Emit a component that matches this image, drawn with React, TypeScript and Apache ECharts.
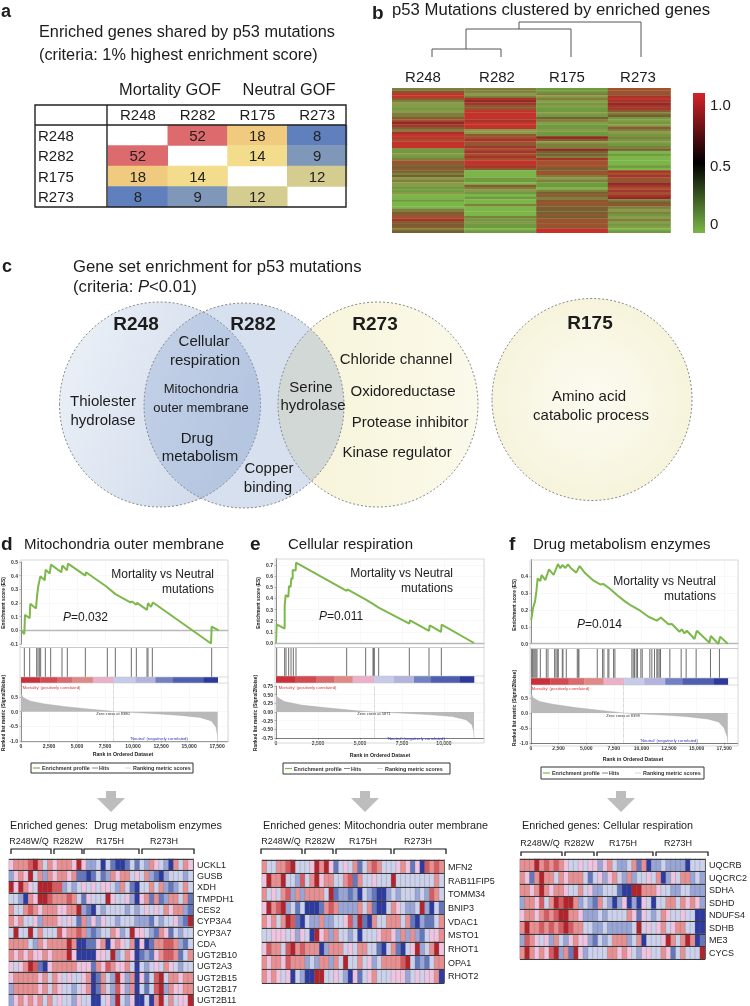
import React, { useEffect, useRef } from "react";
import * as echarts from "echarts";

const ff = '"Liberation Sans", Arial, sans-serif';

// ---------- panel a
const aLabels = ["R248", "R282", "R175", "R273"];
const aRows = [
  [null, 52, 18, 8],
  [52, null, 14, 9],
  [18, 14, null, 12],
  [8, 9, 12, null],
];
const aColors: [number, string][] = [[52, "#dd6b6e"], [18, "#f0ca7e"], [14, "#f3dc8b"], [12, "#d5cc90"], [9, "#7f97b9"], [8, "#5f80bd"]];

// ---------- panel b (tenths of the scale, top to bottom)
const bColumns = ["R248", "R282", "R175", "R273"];
const bR248 = "348853221233 569753 7886888 11213 65454 34232 2112001000 3456754534";
const bR282 = "3323 79755 88887888 22 567657 676 76887 5 000110 53 21 0100 3 0000 3 121101";
const bR175 = "11 32 3 2121121 43 211211 95 233 94 43 7666 4 56 3231 10 34534 654 4454 6565 88";
const bR273 = "665 787977 534 1212 53 213 1213 4 0100 0010 76765 976 7679 3453 2312 3212 01";
const bEdges = [0, 1.038, 2.071, 3.1, 4];
const bPalette = ["#7db648", "#6f9a40", "#8a9a48", "#7f7f3c", "#785f30", "#8c5a30", "#a3502e", "#a5342a", "#c2332a", "#8f2a25"];

// ---------- panels d, e, f: enrichment profiles
const esRankD = [0, 298, 357, 774, 833, 1339, 1429, 1548, 1726, 2113, 2202, 2560, 2679, 3601, 3690, 4107, 4196, 5744, 5804, 7679, 8423, 9762, 9911, 10298, 10357, 11250, 11339, 11607, 11786, 16964, 17024, 17649];
const esScoreD = [0, -0.027, 0.113, 0.088, 0.194, 0.16, 0.248, 0.326, 0.395, 0.366, 0.444, 0.415, 0.481, 0.425, 0.474, 0.439, 0.488, 0.4, 0.425, 0.317, 0.265, 0.204, 0.211, 0.187, 0.201, 0.15, 0.199, 0.172, 0.204, -0.096, 0.027, 0];
const hitsD = [298, 774, 1399, 1518, 1637, 1756, 2172, 2649, 3660, 4137, 5744, 7708, 8422, 9850, 10297, 11249, 11339, 11725, 17023];
const bandD = [0, 1726, 3214, 4554, 6429, 8273, 10208, 11994, 13571, 16309, 17560];
const metricRankD = [0, 100, 200, 800, 2000, 4000, 6000, 8000, 8380, 10000, 12000, 14000, 16000, 17000, 17400, 17540, 17560];
const metricD = [0.62, 0.55, 0.48, 0.36, 0.27, 0.17, 0.09, 0.02, 0, -0.03, -0.07, -0.12, -0.2, -0.32, -0.52, -0.8, -1.0];

const esRankE = [0, 40, 516, 516, 575, 734, 774, 873, 913, 992, 992, 1171, 1190, 4206, 4246, 5297, 5793, 6111, 7936, 7976, 9107, 9146, 9821, 9861, 11785];
const esScoreE = [0, 0.168, 0.129, 0.33, 0.43, 0.414, 0.51, 0.505, 0.58, 0.577, 0.655, 0.649, 0.72, 0.468, 0.48, 0.393, 0.348, 0.318, 0.174, 0.204, 0.108, 0.159, 0.099, 0.165, 0];
const hitsE = [40, 516, 595, 754, 893, 1032, 1190, 4206, 5337, 5773, 5813, 5853, 6111, 7936, 9107, 9841];
const bandE = [0, 1131, 2381, 3452, 4563, 5833, 7023, 8214, 9226, 10912, 11785];
const metricRankE = [0, 100, 500, 1500, 3000, 5000, 5871, 7000, 9000, 10500, 11300, 11650, 11770, 11785];
const metricE = [0.5, 0.42, 0.3, 0.2, 0.12, 0.03, 0, -0.02, -0.07, -0.13, -0.22, -0.36, -0.55, -0.75];

const esRankF = [0, 60, 181, 362, 483, 603, 844, 965, 1297, 1629, 2051, 2443, 2654, 2835, 3106, 3348, 3619, 4102, 4403, 4916, 5670, 6273, 6575, 7178, 7781, 8535, 9138, 9892, 10646, 11400, 11762, 12456, 12758, 13451, 13662, 13904, 14115, 14809, 15020, 16166, 16286, 16980, 17131, 17825];
const esScoreF = [0.14, 0.156, 0.21, 0.25, 0.309, 0.388, 0.372, 0.408, 0.378, 0.442, 0.408, 0.473, 0.448, 0.467, 0.45, 0.471, 0.448, 0.422, 0.461, 0.418, 0.374, 0.352, 0.354, 0.325, 0.289, 0.25, 0.224, 0.196, 0.16, 0.137, 0.156, 0.115, 0.117, 0.071, 0.085, 0.061, 0.077, 0.028, 0.077, 0.006, 0.046, -0.002, 0.042, 0];
const hitsF = [30, 121, 181, 271, 362, 452, 543, 844, 1387, 1538, 2141, 2262, 2383, 2473, 2835, 2895, 3197, 4192, 4283, 4343, 6002, 6484, 6605, 6967, 7057, 7480, 7600, 9138, 9259, 9380, 9531, 9651, 9953, 10073, 10767, 10948, 11189, 11400, 11491, 11611, 11732, 12577, 13602, 14054, 14959, 16256, 17070];
const bandF = [0, 1749, 3408, 4826, 6575, 8445, 10254, 12155, 13753, 16528, 17825];
const metricRankF = [0, 100, 200, 800, 2000, 4000, 6000, 8000, 8398, 10000, 12000, 14000, 16000, 17000, 17500, 17780, 17825];
const metricF = [0.66, 0.58, 0.5, 0.38, 0.29, 0.18, 0.1, 0.02, 0, -0.03, -0.07, -0.12, -0.2, -0.3, -0.5, -0.8, -1.0];

const bandPalette = ["#cb2f3a", "#d24a52", "#d96b70", "#e08a88", "#eab1c9", "#c5cbe8", "#b3b4de", "#7181c4", "#4e5fb0", "#2d3a9c"];

// ---------- heat maps
const heatPalette = ["#2d3a9f", "#6477bd", "#98a5d6", "#cdd2ec", "#efc4e0", "#e88f92", "#d75a60", "#b3232b"];
const genesD = ["UCKL1", "GUSB", "XDH", "TMPDH1", "CES2", "CYP3A4", "CYP3A7", "CDA", "UGT2B10", "UGT2A3", "UGT2B15", "UGT2B17", "UGT2B11"];
const heatD = [
  "4555675354 5554742230 3100131325 43205354",
  "2454735254 5545110131 2545534352 10233323",
  "7475437776 6232343434 4325310335 35212353",
  "3320547765 5565314333 7433420451 51255351",
  "5335654555 4455721032 3333232343 43545521",
  "5453342555 4343152424 3323332221 32334217",
  "3733735333 6455652123 3542374432 15413233",
  "5555325455 5575001145 0454350401 55665213",
  "5454544545 5574000044 3723540121 45665135",
  "4345761045 5555444154 6544530323 43543233",
  "4555554535 4343345015 3274250413 67355455",
  "2555554535 4332345015 3264250313 67254455",
  "2454545353 4332433003 4273240030 57353447",
];
const genesE = ["MFN2", "RAB11FIP5", "TOMM34", "BNIP3", "VDAC1", "MSTO1", "RHOT1", "OPA1", "RHOT2"];
const heatE = [
  "5335567333 4757413435 1356533345 41406565",
  "4755733263 5745533561 5334333733 33333353",
  "5343562525 5553712212 0321002323 33232653",
  "4756723130 0015652222 5351003543 22372031",
  "5453576103 2252233462 7105335553 51021135",
  "3344434243 0745253323 0333455425 25213445",
  "4655367565 5502555343 5533103510 34723574",
  "5455465552 3255253733 5342355556 73121355",
  "5454340320 0773343204 1345333444 23434450",
];
const genesF = ["UQCRB", "UQCRC2", "SDHA", "SDHD", "NDUFS4", "SDHB", "ME3", "CYCS"];
const heatF = [
  "5557565654 3343442453 2235150223 22220333",
  "5415755354 5553134245 3252334350 24355232",
  "5545754554 3353422333 1007755543 32233222",
  "2554635767 7523215320 2402043033 55354542",
  "4554565677 5542223233 3354143235 43343300",
  "5755656567 6553322322 2223734345 34553300",
  "2654342532 4544213235 5523503334 75357501",
  "5754546725 1742333355 4543244335 41353337",
];
const groupNames = ["R248W/Q", "R282W", "R175H", "R273H"];

const digits = (s: string) => s.replace(/\s/g, "").split("").map(Number);

function txt(text: string, x: number, y: number, size: number, o: any = {}) {
  return {
    type: "text", x, y, z: 60, silent: true, rotation: o.rotation || 0,
    style: {
      text, fontFamily: ff, fontSize: size, fontWeight: o.weight || "normal", fill: o.fill || "#1c1c1c",
      align: o.align || "left", verticalAlign: "middle", rich: o.rich,
    },
  };
}
function seg(x1: number, y1: number, x2: number, y2: number, stroke: string, lineWidth: number, extra: any = {}) {
  return { type: "line", z: 55, silent: true, shape: { x1, y1, x2, y2 }, style: { stroke, lineWidth, ...extra } };
}
function poly(points: number[][], stroke: string, lineWidth: number) {
  return { type: "polyline", z: 55, silent: true, shape: { points }, style: { stroke, lineWidth, fill: "none" } };
}

const App = () => {
  const ref = useRef<HTMLDivElement>(null);
  useEffect(() => {
    const chart = echarts.init(ref.current!, null, { renderer: "svg" });
    const grid: any[] = [], xAxis: any[] = [], yAxis: any[] = [], series: any[] = [], g: any[] = [];

    // ===== a
    grid.push({ left: 108, top: 125, width: 239, height: 82 });
    xAxis.push({ type: "category", gridIndex: 0, position: "top", data: aLabels, axisLine: { show: false }, axisTick: { show: false }, axisLabel: { fontSize: 15, color: "#1c1c1c", margin: 3, fontFamily: ff } });
    yAxis.push({ type: "category", gridIndex: 0, inverse: true, data: aLabels, axisLine: { show: false }, axisTick: { show: false }, axisLabel: { fontSize: 15, color: "#1c1c1c", align: "left", margin: 70, fontFamily: ff } });
    const aData: any[] = [];
    aRows.forEach((r, i) => r.forEach((v, j) => { if (v !== null) aData.push([j, i, v]); }));
    series.push({ type: "heatmap", xAxisIndex: 0, yAxisIndex: 0, data: aData, label: { show: true, fontSize: 15, color: "#222", fontFamily: ff, formatter: (p: any) => String(p.value[2]) } });

    g.push(txt("a", 1, 11, 18, { weight: "bold" }));
    g.push(txt("Enriched genes shared by p53 mutations", 39, 31, 16.3));
    g.push(txt("(criteria: 1% highest enrichment score)", 39, 54, 16.3));
    g.push(txt("Mortality GOF", 170, 89, 16.4, { align: "center" }));
    g.push(txt("Neutral GOF", 289, 89, 16.4, { align: "center" }));
    g.push({ type: "rect", z: 56, silent: true, shape: { x: 35, y: 105, width: 311, height: 102 }, style: { fill: "none", stroke: "#222", lineWidth: 1.4 } });
    g.push(seg(107, 105, 107, 207, "#222", 1.4));
    g.push(seg(35, 125, 346, 125, "#222", 1.4));

    // ===== b
    const bIdx = grid.length;
    grid.push({ left: 392, top: 88, width: 278.5, height: 145 });
    xAxis.push({ type: "value", gridIndex: bIdx, min: 0, max: 4, show: false });
    yAxis.push({ type: "value", gridIndex: bIdx, min: 0, max: 60, inverse: true, show: false });
    const bData: number[][] = [];
    [bR248, bR282, bR175, bR273].forEach((s, c) => digits(s).forEach((v, r) => bData.push([c, r, v])));
    series.push({
      type: "custom", xAxisIndex: bIdx, yAxisIndex: bIdx, data: bData, encode: { x: 0, y: 1 }, clip: true,
      renderItem: (_: any, api: any) => {
        const c = api.value(0), r = api.value(1);
        const a = api.coord([bEdges[c], r]);
        const b = api.coord([bEdges[c + 1], r + 1]);
        return { type: "rect", shape: { x: a[0], y: a[1], width: b[0] - a[0] + 0.3, height: b[1] - a[1] + 0.3 }, style: { fill: bPalette[api.value(2)] } };
      },
    });
    g.push(txt("b", 372, 12, 19, { weight: "bold" }));
    g.push(txt("p53 Mutations clustered by enriched genes", 392, 9, 16.7));
    [423, 497, 567, 638].forEach((x, i) => g.push(txt(bColumns[i], x, 76, 15, { align: "center" })));
    const den = "#555";
    g.push(poly([[432, 57], [432, 49], [501, 49], [501, 57]], den, 1));
    g.push(poly([[466, 49], [466, 29], [571, 29], [571, 57]], den, 1));
    g.push(poly([[519, 29], [519, 22], [641, 22], [641, 57]], den, 1));
    g.push({
      type: "rect", z: 50, silent: true, shape: { x: 693, y: 93, width: 12, height: 140 },
      style: { fill: { type: "linear", x: 0, y: 0, x2: 0, y2: 1, colorStops: [{ offset: 0, color: "#d4232a" }, { offset: 0.5, color: "#000" }, { offset: 1, color: "#7ab648" }] } },
    });
    g.push(txt("1.0", 710, 104, 15));
    g.push(txt("0.5", 710, 165, 15));
    g.push(txt("0", 710, 223, 15));

    // ===== c
    const blue = (a1: number, a2: number) => ({ type: "linear", x: 0, y: 0, x2: 1, y2: 0.4, colorStops: [{ offset: 0, color: `rgba(130,160,205,${a1})` }, { offset: 1, color: `rgba(120,150,200,${a2})` }] });
    const yel = { type: "linear", x: 0, y: 0, x2: 1, y2: 0, colorStops: [{ offset: 0, color: "#f7f3d8" }, { offset: 1, color: "#fbf9ea" }] };
    const ell = (cx: number, cy: number, rx: number, ry: number, fill: any, z: number) => ({
      type: "ellipse", z, silent: true, shape: { cx, cy, rx, ry }, style: { fill, stroke: "#8a8a8a", lineWidth: 1, lineDash: [2, 2] },
    });
    g.push(ell(378, 404.5, 100, 102.5, yel, 10));
    g.push(ell(592, 399.5, 100, 101, { type: "radial", x: 0.5, y: 0.5, r: 0.6, colorStops: [{ offset: 0, color: "#fcfbf1" }, { offset: 1, color: "#f6f2d8" }] }, 10));
    g.push(ell(160, 404.5, 100.5, 102.5, blue(0.14, 0.36), 11));
    g.push(ell(244, 405.5, 100, 102.5, blue(0.32, 0.3), 12));
    g.push(txt("c", 2, 266, 18, { weight: "bold" }));
    g.push(txt("Gene set enrichment for p53 mutations", 73, 266, 16.7));
    g.push(txt("(criteria: {i|P}<0.01)", 73, 286, 16.7, { rich: { i: { fontStyle: "italic", fontSize: 16.7, fontFamily: ff, fill: "#1c1c1c" } } }));
    const vb = { weight: "bold", align: "center" };
    g.push(txt("R248", 136, 323, 19, vb), txt("R282", 253, 323, 19, vb), txt("R273", 375, 323, 19, vb), txt("R175", 590, 322, 19, vb));
    const vc = { align: "center" };
    ([
      ["Cellular", 204, 340, 15], ["respiration", 205, 359, 15],
      ["Mitochondria", 201, 388, 13], ["outer membrane", 201, 407, 13],
      ["Drug", 197, 437, 15], ["metabolism", 200, 455, 15],
      ["Thiolester", 103, 400, 15], ["hydrolase", 103, 419, 15],
      ["Copper", 269, 467, 15], ["binding", 268, 486, 15],
      ["Serine", 311, 386, 15], ["hydrolase", 313, 404, 15],
      ["Chloride channel", 396, 358, 15], ["Oxidoreductase", 403, 390, 15],
      ["Protease inhibitor", 410, 421, 15], ["Kinase regulator", 397, 451, 15],
      ["Amino acid", 589, 395, 15], ["catabolic process", 591, 414, 15],
    ] as [string, number, number, number][]).forEach(([t, x, y, s]) => g.push(txt(t, x, y, s, vc)));

    // ===== d, e, f
    const fmtRank = (v: number) => v.toLocaleString("en-US");
    const tiny = { fontSize: 5, fontWeight: "bold", color: "#333", fontFamily: ff };
    const panels: any[] = [
      {
        rank: esRankD, es: esScoreD, hits: hitsD, band: bandD, mRank: metricRankD, m: metricD, zero: 8273,
        letter: "d", letterX: 1, title: "Mitochondria outer membrane", titleX: 24, frame: [20, 560, 228, 742], left: 21, width: 207, xMax: 18480,
        top: [562, 644, -0.1, 0.5, true], hitsY: [648, 677, 683], low: [682.3, 741, -1, 1, 0.5, 1],
        mvX: 214, mvY: 574, pLabel: "=0.032", pX: 63, pY: 617, zeroText: "Zero cross at 8380", zeroX: 113, zeroY: 713,
        posX: 22, posY: 687, negX: 159, negY: 738, rankX: 123, rankY: 754, esX: 3, esY: 603, metX: 3, metY: 713,
        legend: [31, 763, 162, 10],
        heat: heatD, genes: genesD, hx: [9, 193], hy: [859, 1006], hTitle: "Enriched genes:  Drug metabolism enzymes", hTitleX: 10,
        groups: [29, 68, 110, 164], groupY: 841, brackets: [[11, 51], [54, 82], [84, 139], [142, 194]], brY: [849, 854], arrowX: 111,
      },
      {
        rank: esRankE, es: esScoreE, hits: hitsE, band: bandE, mRank: metricRankE, m: metricE, zero: 5833,
        letter: "e", letterX: 250, title: "Cellular respiration", titleX: 288, frame: [275, 559, 484, 743], left: 276, width: 208, xMax: 12381,
        top: [558.6, 643, 0, 0.757, false], hitsY: [648, 676, 683], low: [686, 738, -0.75, 0.75, 0.25, 2],
        mvX: 453, mvY: 573, pLabel: "=0.011", pX: 319, pY: 616, zeroText: "Zero cross at 5871", zeroX: 374, zeroY: 713,
        posX: 278, posY: 687, negX: 416, negY: 738, rankX: 380, rankY: 755, esX: 258, esY: 603, metX: 255, metY: 713,
        legend: [283, 763, 167, 11],
        heat: heatE, genes: genesE, hx: [262, 444], hy: [860, 983], hTitle: "Enriched genes: Mitochondria outer membrane", hTitleX: 263,
        groups: [281, 320, 363, 418], groupY: 841, brackets: [[261, 302], [305, 333], [336, 391], [394, 446]], brY: [849, 854], arrowX: 365,
      },
      {
        rank: esRankF, es: esScoreF, hits: hitsF, band: bandF, mRank: metricRankF, m: metricF, zero: 8385,
        letter: "f", letterX: 509, title: "Drug metabolism enzymes", titleX: 533, frame: [530, 560, 738, 746], left: 531, width: 207, xMax: 18750,
        top: [559.5, 643.7, 0, 0.5, false], hitsY: [649, 678, 685], low: [683, 743, -1, 1, 0.5, 1],
        mvX: 716, mvY: 581, pLabel: "=0.014", pX: 577, pY: 624, zeroText: "Zero cross at 8398", zeroX: 623, zeroY: 715,
        posX: 531, posY: 688, negX: 669, negY: 740, rankX: 633, rankY: 759, esX: 514, esY: 605, metX: 514, metY: 708,
        legend: [541, 767, 163, 12],
        heat: heatF, genes: genesF, hx: [520, 709], hy: [859, 959], hTitle: "Enriched genes: Cellular respiration", hTitleX: 522,
        groups: [540, 579, 623, 678], groupY: 843, brackets: [[521, 562], [565, 594], [597, 653], [656, 708]], brY: [852, 856], arrowX: 621,
      },
    ];
    const heatSeries: number[] = [];
    panels.forEach((p) => {
      // enrichment line
      let i = grid.length;
      grid.push({ left: p.left, width: p.width, top: p.top[0], height: p.top[1] - p.top[0] });
      xAxis.push({ type: "value", gridIndex: i, min: 0, max: p.xMax, interval: 2500, axisLabel: { show: false }, axisTick: { show: false }, axisLine: { onZero: true, lineStyle: { color: "#b8b8b8", width: 1.4 } }, splitLine: { lineStyle: { color: "#f0f0f0", width: 0.5 } } });
      yAxis.push({
        type: "value", gridIndex: i, min: p.top[2], max: p.top[3], interval: 0.1,
        axisLine: { show: true, lineStyle: { color: "#444", width: 0.6 } }, axisTick: { length: 1.5, lineStyle: { color: "#444", width: 0.5 } },
        axisLabel: { ...tiny, margin: 3, showMaxLabel: p.top[4], formatter: (v: number) => v.toFixed(1) },
        splitLine: { showMaxLine: false, lineStyle: { color: "#f0f0f0", width: 0.5 } },
      });
      series.push({ type: "line", xAxisIndex: i, yAxisIndex: i, data: p.rank.map((r: number, k: number) => [r, p.es[k]]), symbol: "none", lineStyle: { color: "#7cb84a", width: 2 }, z: 5 });

      // hits and colour band
      i = grid.length;
      grid.push({ left: p.left, width: p.width, top: p.hitsY[0], height: p.hitsY[2] - p.hitsY[0] });
      xAxis.push({ type: "value", gridIndex: i, min: 0, max: p.xMax, show: false });
      yAxis.push({ type: "value", gridIndex: i, min: 0, max: 1, show: false });
      const split = (p.hitsY[2] - p.hitsY[1]) / (p.hitsY[2] - p.hitsY[0]);
      series.push({
        type: "custom", xAxisIndex: i, yAxisIndex: i, data: p.hits.map((h: number) => [h, 1]), encode: { x: 0, y: 1 },
        renderItem: (_: any, api: any) => {
          const a = api.coord([api.value(0), split]);
          const b = api.coord([api.value(0), 1]);
          return { type: "line", shape: { x1: a[0], y1: a[1], x2: b[0], y2: b[1] }, style: { stroke: "#6e6e6e", lineWidth: 1 } };
        },
      });
      series.push({
        type: "custom", xAxisIndex: i, yAxisIndex: i, data: p.band.slice(0, -1).map((b: number, k: number) => [b, p.band[k + 1], k]), encode: { x: [0, 1] },
        renderItem: (_: any, api: any) => {
          const a = api.coord([api.value(0), split]);
          const b = api.coord([api.value(1), 0]);
          return { type: "rect", shape: { x: a[0], y: a[1], width: b[0] - a[0] + 0.3, height: b[1] - a[1] }, style: { fill: bandPalette[api.value(2)] } };
        },
      });

      // ranking metric
      i = grid.length;
      grid.push({ left: p.left, width: p.width, top: p.low[0], height: p.low[1] - p.low[0] });
      xAxis.push({
        type: "value", gridIndex: i, min: 0, max: p.xMax, interval: 2500,
        axisLine: { onZero: false, lineStyle: { color: "#444", width: 0.7 } }, axisTick: { length: 1.5, lineStyle: { color: "#444", width: 0.5 } },
        axisLabel: { ...tiny, margin: 2.5, showMaxLabel: false, formatter: fmtRank },
        splitLine: { lineStyle: { color: "#f0f0f0", width: 0.5 } },
      });
      const dec = p.low[5];
      yAxis.push({
        type: "value", gridIndex: i, min: p.low[2], max: p.low[3], interval: p.low[4],
        axisLine: { show: true, lineStyle: { color: "#444", width: 0.6 } }, axisTick: { length: 1.5, lineStyle: { color: "#444", width: 0.5 } },
        axisLabel: { ...tiny, margin: 3, showMaxLabel: dec === 2, formatter: (v: number) => v.toFixed(dec) },
        splitLine: { showMaxLine: false, lineStyle: { color: "#f0f0f0", width: 0.5 } },
      });
      series.push({
        type: "line", xAxisIndex: i, yAxisIndex: i, data: p.mRank.map((r: number, k: number) => [r, p.m[k]]), symbol: "none",
        lineStyle: { width: 0.4, color: "#aaa" }, areaStyle: { color: "#b9b9b9", opacity: 1 },
        markLine: { silent: true, symbol: "none", label: { show: false }, lineStyle: { color: "#999", type: "dotted", width: 0.6 }, data: [{ xAxis: p.zero }] },
      });

      // frame and texts
      const [fx0, fy0, fx1, fy1] = p.frame;
      g.push({ type: "rect", z: 40, silent: true, shape: { x: fx0, y: fy0, width: fx1 - fx0, height: fy1 - fy0 }, style: { fill: "none", stroke: "#cfcfcf", lineWidth: 0.8 } });
      g.push(seg(fx0, p.hitsY[0] - 0.5, fx1, p.hitsY[0] - 0.5, "#bdbdbd", 0.8));
      g.push(seg(fx0, p.hitsY[1], fx1, p.hitsY[1], "#c8c8c8", 0.6));
      g.push(seg(fx0, p.hitsY[2], fx1, p.hitsY[2], "#c8c8c8", 0.6));
      g.push(txt(p.letter, p.letterX, 543, 19, { weight: "bold" }));
      g.push(txt(p.title, p.titleX, 543, 15));
      g.push(txt("Mortality vs Neutral", p.mvX, p.mvY, 12, { align: "right" }));
      g.push(txt("mutations", p.mvX, p.mvY + 15, 12, { align: "right" }));
      g.push(txt("{i|P}" + p.pLabel, p.pX, p.pY, 12, { rich: { i: { fontStyle: "italic", fontSize: 12, fontFamily: ff, fill: "#1c1c1c" } } }));
      g.push(txt(p.zeroText, p.zeroX, p.zeroY, 4, { align: "center", fill: "#333" }));
      g.push(txt("'Mortality' (positively correlated)", p.posX, p.posY, 4.2, { fill: "#d33" }));
      g.push(txt("'Neutral' (negatively correlated)", p.negX, p.negY, 4.2, { fill: "#33b", align: "center" }));
      g.push(txt("Rank in Ordered Dataset", p.rankX, p.rankY, 5.2, { align: "center", weight: "bold" }));
      g.push(txt("Enrichment score (ES)", p.esX, p.esY, 4.8, { align: "center", weight: "bold", rotation: Math.PI / 2 }));
      g.push(txt("Ranked list metric (Signal2Noise)", p.metX, p.metY, 4.8, { align: "center", weight: "bold", rotation: Math.PI / 2 }));
      const [lx, ly, lw, lh] = p.legend;
      g.push({ type: "rect", z: 50, silent: true, shape: { x: lx, y: ly, width: lw, height: lh }, style: { fill: "#fff", stroke: "#333", lineWidth: 1 } });
      const lm = ly + lh / 2;
      g.push(seg(lx + 2, lm, lx + 9, lm, "#7cb84a", 1.2));
      g.push(txt("Enrichment profile", lx + 11, lm, 5.4, { weight: "bold", fill: "#333" }));
      g.push(seg(lx + 61, lm, lx + 67, lm, "#666", 0.8));
      g.push(txt("Hits", lx + 68, lm, 5.4, { weight: "bold", fill: "#333" }));
      g.push(seg(lx + 94, lm, lx + 100, lm, "#ccc", 0.8));
      g.push(txt("Ranking metric scores", lx + 102, lm, 5.4, { weight: "bold", fill: "#333" }));

      // arrow
      const ax = p.arrowX;
      g.push({ type: "polygon", z: 30, silent: true, shape: { points: [[ax - 5, 791], [ax + 5, 791], [ax + 5, 798], [ax + 14, 798], [ax, 812], [ax - 14, 798], [ax - 5, 798]] }, style: { fill: "#bdbdbd" } });

      // gene heat map
      i = grid.length;
      grid.push({ left: p.hx[0], width: p.hx[1] - p.hx[0], top: p.hy[0], height: p.hy[1] - p.hy[0] });
      const cols = digits(p.heat[0]).map((_: number, k: number) => "s" + (k + 1));
      xAxis.push({ type: "category", gridIndex: i, data: cols, show: false });
      yAxis.push({
        type: "category", gridIndex: i, inverse: true, data: p.genes, position: "right", z: 6,
        axisLine: { show: true, lineStyle: { color: "#444", width: 0.8 } }, axisTick: { show: false },
        axisLabel: { interval: 0, fontSize: 9, color: "#222", margin: 4, fontFamily: ff },
        splitLine: { show: true, interval: 0, lineStyle: { color: "#3a3a3a", width: 1 } },
      });
      const cells: number[][] = [];
      p.heat.forEach((row: string, r: number) => digits(row).forEach((v, c) => cells.push([c, r, v])));
      heatSeries.push(series.length);
      series.push({ type: "heatmap", xAxisIndex: i, yAxisIndex: i, data: cells, itemStyle: { borderColor: "#777", borderWidth: 0.3 } });

      g.push(txt(p.hTitle, p.hTitleX, 825, 10.8));
      p.groups.forEach((x: number, k: number) => g.push(txt(groupNames[k], x, p.groupY, 9, { align: "center" })));
      p.brackets.forEach((b: number[]) => g.push(poly([[b[0], p.brY[1]], [b[0], p.brY[0]], [b[1], p.brY[0]], [b[1], p.brY[1]]], "#111", 1.2)));
    });

    chart.setOption({
      animation: false,
      backgroundColor: "#fff",
      textStyle: { fontFamily: ff },
      grid, xAxis, yAxis, series,
      visualMap: [
        { type: "piecewise", show: false, seriesIndex: 0, pieces: aColors.map(([value, color]) => ({ value, color })) },
        { type: "piecewise", show: false, seriesIndex: heatSeries, pieces: heatPalette.map((color, value) => ({ value, color })) },
      ],
      graphic: { elements: g },
    });
    return () => chart.dispose();
  }, []);
  return <div ref={ref} style={{ position: "absolute", left: 0, top: 0, width: 750, height: 1006, filter: "blur(0.3px)" }} />;
};

export default App;
